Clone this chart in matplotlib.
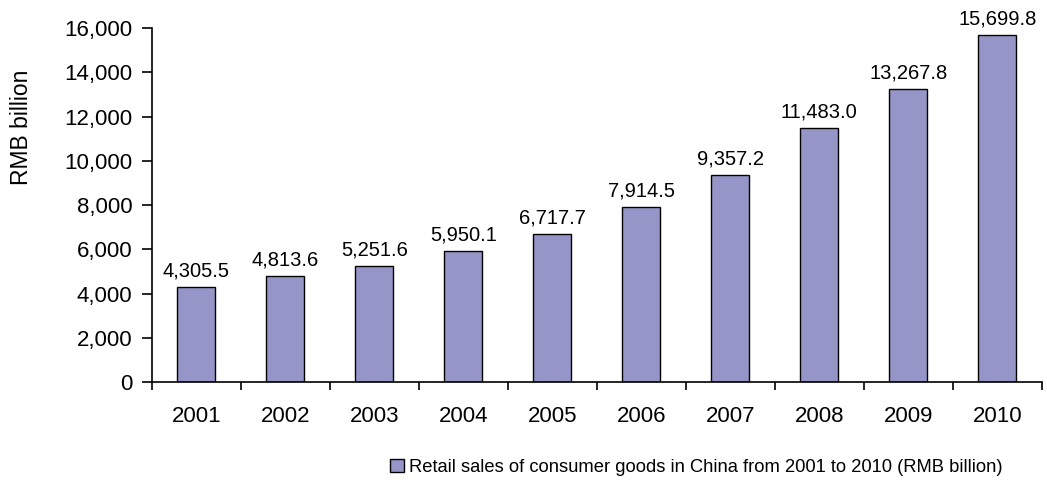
import numpy as np
import matplotlib.pyplot as plt
from matplotlib.ticker import FuncFormatter

plt.rcParams['font.family'] = ['Liberation Sans', 'DejaVu Sans']

years = ['2001', '2002', '2003', '2004', '2005', '2006', '2007', '2008', '2009', '2010']
sales = [4305.5, 4813.6, 5251.6, 5950.1, 6717.7, 7914.5, 9357.2, 11483.0, 13267.8, 15699.8]
series_name = 'Retail sales of consumer goods in China from 2001 to 2010 (RMB billion)'

fig = plt.figure(figsize=(10.47, 4.95), dpi=100)
ax = fig.add_axes([0.145, 0.228, 0.85, 0.715])

x = np.arange(len(years))
bars = ax.bar(x, sales, width=0.43, color='#9595c8', edgecolor='black',
              linewidth=1.0, label=series_name, zorder=2)

for xi, v in zip(x, sales):
    ax.text(xi, v + 280, f'{v:,.1f}', ha='center', va='bottom', fontsize=14.5)

ax.set_xlim(-0.5, len(years) - 0.5)
ax.set_ylim(0, 16000)
ax.set_yticks(np.arange(0, 16001, 2000))
ax.yaxis.set_major_formatter(FuncFormatter(lambda v, p: f'{v:,.0f}'))
ax.set_ylabel('RMB billion', fontsize=16.5)
ax.yaxis.set_label_coords(-0.133, 0.72)

# category ticks sit between the bars
ax.set_xticks(x)
ax.set_xticklabels(years)
ax.set_xticks(np.arange(-0.5, len(years), 1.0), minor=True)
ax.tick_params(axis='x', which='major', length=0, labelsize=16, pad=17)
ax.tick_params(axis='x', which='minor', length=6, width=1.2, direction='out')
ax.tick_params(axis='y', length=7, width=1.2, labelsize=16, pad=7)

for side in ['top', 'right']:
    ax.spines[side].set_visible(False)
for side in ['left', 'bottom']:
    ax.spines[side].set_linewidth(1.2)

fig.legend(handles=[bars], labels=[series_name], loc='lower center',
           bbox_to_anchor=(0.665, 0.005), frameon=False, fontsize=13.2,
           handlelength=0.75, handleheight=0.75, handletextpad=0.3)

fig.savefig('out.png', dpi=100)
